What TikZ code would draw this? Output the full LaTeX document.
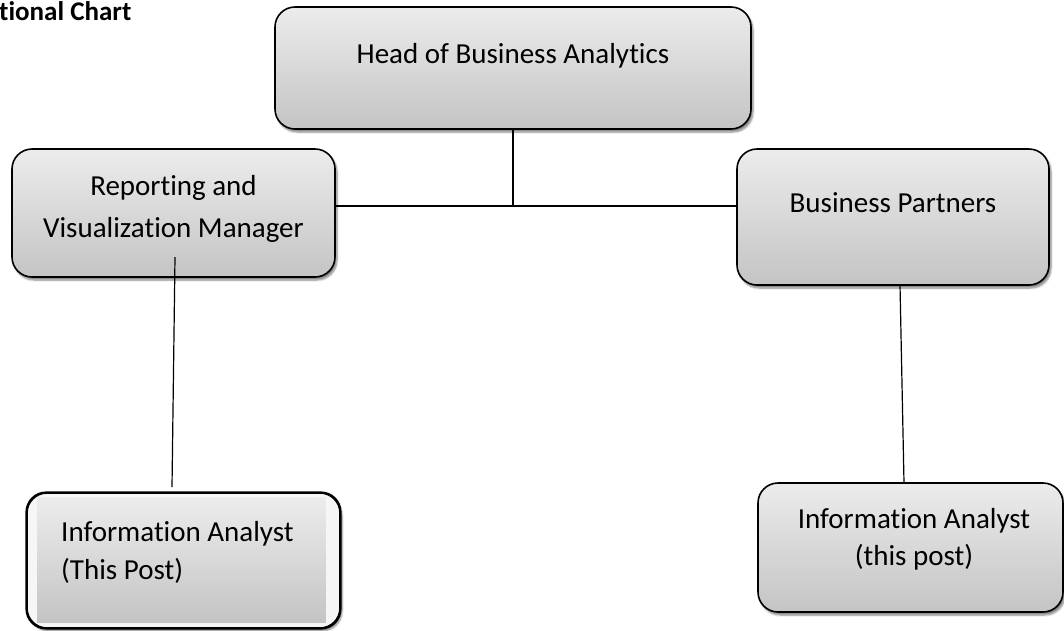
\documentclass[tikz,border=0pt]{standalone}
\usepackage{fontspec}
\setmainfont{Carlito}[Ligatures=NoCommon]
\usepackage{tikz}
\usetikzlibrary{shadows.blur}
\definecolor{boxtop}{RGB}{236,236,236}
\definecolor{boxbottom}{RGB}{196,196,196}
\definecolor{panelgray}{RGB}{246,246,246}

\begin{document}
\begin{tikzpicture}[
        x=1pt, y=-1pt,
        post/.style={rectangle, rounded corners=20pt, draw=black, line width=1.6pt,
                     top color=boxtop, bottom color=boxbottom,
                     blur shadow={shadow xshift=2pt, shadow yshift=-3pt,
                                  shadow blur steps=6, shadow opacity=50}},
        caption/.style={inner sep=0pt, align=center,
                        font=\fontsize{29}{41}\selectfont},
        link/.style={draw=black, line width=1.2pt}
      ]
      \useasboundingbox (0,0) rectangle (1064,630);

      \node[anchor=base west, inner sep=0pt, font=\fontsize{27}{32}\selectfont\bfseries]
        (title) at (-1,20) {tional Chart};

      % boxes
      \node[post, minimum width=476pt, minimum height=122pt] (head) at (513,68) {};
      \node[post, minimum width=323pt, minimum height=128pt] (rvm) at (173.5,213) {};
      \node[post, minimum width=312pt, minimum height=136pt] (bp) at (893,217) {};
      \node[post, minimum width=305pt, minimum height=129pt] (iar) at (910.5,547.5) {};
      \node[post, minimum width=313pt, minimum height=135pt,
            top color=panelgray, bottom color=panelgray] (ial) at (183.5,560.5) {};

      % inner panel of the left analyst box
      \begin{scope}
        \clip[rounded corners=20pt] (ial.north west) rectangle (ial.south east);
        \shade[top color=boxtop, bottom color=boxbottom]
          ([xshift=11pt, yshift=-5pt]ial.north west) rectangle ([xshift=-15pt, yshift=6pt]ial.south east);
      \end{scope}
      \draw[black, line width=1.6pt, rounded corners=20pt] (ial.north west) rectangle (ial.south east);

      % texts
      \node[caption, anchor=base] (headtxt) at (513,63) {Head of Business Analytics};
      \node[caption, font=\fontsize{29}{42}\selectfont] (rvmtxt) at (173.5,209)
        {Reporting and\\Visualization Manager};
      \node[caption, anchor=base] (bptxt) at (893,212) {Business Partners};
      \node[caption, font=\fontsize{29}{37}\selectfont] (iartxt) at (914,539.5)
        {Information Analyst\\(this post)};
      \node[caption, align=left, anchor=west, font=\fontsize{29}{38}\selectfont]
        (ialtxt) at (61,552) {Information Analyst\\(This Post)};

      % connectors
      \coordinate (jn) at (513,206);
      \draw[link] (head.south) -- (jn);
      \draw[link] (rvm.east |- jn) -- (bp.west |- jn);

      \coordinate (rvmfoot) at (175,257);
      \coordinate (ialtop) at (172,487);
      \draw[link] (rvmfoot) -- (ialtop);

      \coordinate (bpfoot) at (900,285);
      \coordinate (iartop) at (904,483);
      \draw[link] (bpfoot) -- (iartop);
    \end{tikzpicture}
\end{document}
